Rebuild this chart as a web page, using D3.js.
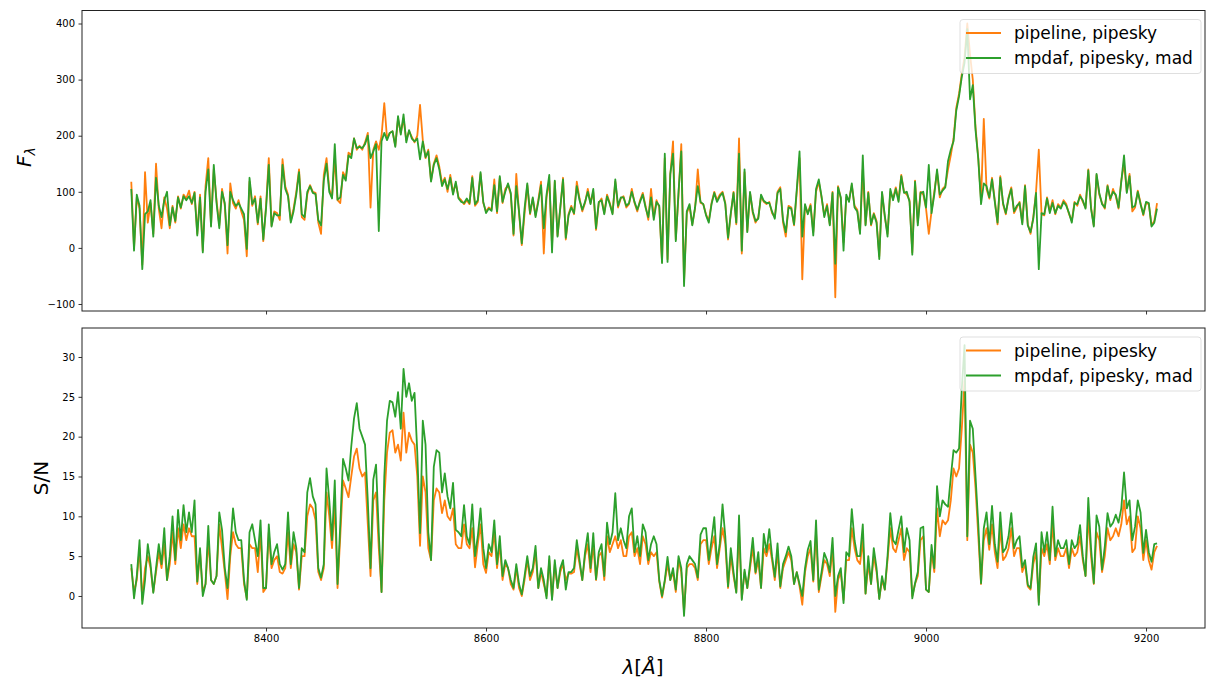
<!DOCTYPE html>
<html>
<head>
<meta charset="utf-8">
<script src="https://cdn.jsdelivr.net/npm/d3@7"></script>
<style>
  body { margin: 0; background: #fff; }
  svg { display: block; }
  text { font-family: "DejaVu Sans", sans-serif; }
</style>
</head>
<body>
<svg id="chart" width="1206" height="685"></svg>
<script>
// Wavelength grid of the extracted spectrum (Angstrom)
const lambdaStart = 8277.5;
const lambdaStep = 2.5;

// Flux density, pipeline reduction with pipeline sky subtraction
const fluxPipeline = [
  118, 0, 90, 70, -30, 135, 45, 80, 25, 150,
  70, 35, 90, 70, 35, 75, 45, 92, 70, 95,
  88, 102, 78, 100, 25, 95, -5, 110, 160, 40,
  140, 85, 40, 105, 75, -10, 115, 80, 70, 85,
  65, 50, -15, 118, 75, 92, 42, 92, 12, 75,
  160, 40, 65, 62, 50, 158, 110, 95, 48, 70,
  100, 140, 55, 50, 95, 112, 100, 98, 45, 25,
  130, 160, 105, 90, 160, 85, 80, 135, 125, 170,
  165, 195, 175, 182, 175, 188, 205, 72, 175, 190,
  175, 200, 258, 195, 205, 208, 182, 230, 205, 230,
  192, 208, 198, 188, 200, 255, 192, 160, 175, 120,
  150, 165, 145, 115, 125, 100, 130, 98, 115, 90,
  85, 78, 85, 78, 128, 75, 82, 132, 80, 65,
  72, 68, 122, 62, 125, 80, 105, 112, 95, 22,
  132, 62, 5, 60, 112, 60, 88, 58, 85, 118,
  -10, 90, 120, 5, 118, 22, 70, 125, 15, 60,
  75, 60, 118, 88, 65, 80, 105, 80, 100, 32,
  80, 88, 62, 95, 80, 62, 118, 72, 88, 92,
  72, 78, 105, 80, 65, 85, 98, 75, 50, 105,
  55, 85, 72, -25, 160, -20, 130, 190, 15, 95,
  185, -60, 62, 75, 42, 70, 140, 80, 78, 60,
  48, 80, 100, 85, 95, 100, 80, 15, 60, 100,
  42, 195, -10, 135, 30, 98, 62, 45, 55, 92,
  82, 78, 82, 62, 55, 100, 108, 45, 20, 75,
  72, 40, 100, 160, -56, 75, 62, 78, 28, 100,
  118, 90, 58, 78, 42, 100, -88, 110, 88, 10,
  90, 85, 112, 75, 68, 28, 140, 42, 100, 40,
  62, 48, -15, 98, 55, 25, 100, 88, 108, 85,
  130, 100, 95, 85, -8, 120, 45, 100, 95, 70,
  25, 65, 100, 135, 90, 105, 110, 140, 165, 195,
  250, 275, 310, 340, 400, 345, 300, 215, 160, 85,
  230, 105, 88, 125, 85, 42, 128, 78, 60, 90,
  108, 62, 72, 82, 45, 112, 42, 25, 55, 100,
  175, 60, 58, 90, 65, 85, 60, 78, 72, 85,
  78, 60, 48, 82, 75, 95, 82, 72, 140, 72,
  40, 130, 95, 80, 70, 112, 85, 105, 92, 70,
  120, 150, 100, 132, 65, 72, 102, 80, 58, 80,
  78, 40, 48, 80
];

// Flux density, MPDAF extraction with pipeline sky and MAD clipping
const fluxMpdaf = [
  105, -5, 95, 75, -38, 60, 65, 85, 20, 125,
  75, 55, 85, 100, 40, 72, 48, 90, 72, 92,
  85, 92, 80, 98, 22, 90, -8, 100, 140, 38,
  148, 80, 35, 100, 80, 5, 100, 85, 75, 80,
  70, 60, -2, 125, 78, 88, 45, 88, 15, 70,
  148, 38, 62, 58, 58, 148, 105, 92, 45, 65,
  95, 135, 60, 55, 100, 110, 98, 96, 50, 40,
  120, 150, 100, 88, 185, 86, 90, 130, 120, 165,
  160, 195, 178, 180, 178, 185, 200, 160, 172, 185,
  30, 190, 205, 192, 205, 208, 180, 235, 202, 238,
  188, 210, 195, 190, 195, 158, 190, 162, 172, 118,
  148, 160, 140, 110, 122, 105, 125, 95, 118, 88,
  82, 80, 88, 80, 125, 78, 85, 135, 82, 62,
  70, 66, 112, 65, 128, 82, 100, 115, 98, 25,
  110, 65, 8, 70, 115, 62, 90, 55, 82, 112,
  35, 95, 130, -8, 120, 20, 72, 122, 18, 58,
  72, 62, 110, 85, 68, 82, 100, 78, 105, 35,
  82, 85, 60, 92, 78, 60, 122, 75, 90, 90,
  75, 80, 100, 82, 68, 82, 95, 72, 55, 90,
  50, 82, 75, -27, 168, -25, 132, 168, 12, 100,
  172, -68, 65, 78, 40, 72, 110, 82, 78, 58,
  45, 78, 98, 82, 92, 98, 78, 18, 62, 98,
  45, 168, -5, 140, 28, 100, 65, 48, 52, 95,
  84, 80, 80, 65, 52, 98, 105, 50, 28, 72,
  70, 42, 105, 172, 20, 78, 60, 75, 22, 105,
  122, 92, 55, 75, 40, 98, -28, 108, 90, -5,
  95, 82, 115, 72, 65, 25, 165, 40, 98, 42,
  60, 45, -20, 100, 58, 20, 105, 85, 105, 82,
  128, 98, 100, 82, -12, 118, 40, 98, 100, 72,
  148, 62, 95, 140, 95, 102, 108, 155, 175, 190,
  245, 270, 305, 330, 390, 265, 290, 210, 158, 78,
  115, 110, 90, 122, 82, 45, 125, 80, 62, 88,
  105, 65, 75, 80, 42, 110, 40, 28, 52, 98,
  -38, 62, 60, 88, 62, 80, 62, 75, 70, 82,
  75, 62, 45, 80, 78, 92, 85, 70, 138, 70,
  38, 132, 98, 78, 72, 110, 88, 100, 95, 72,
  118, 165, 98, 128, 72, 75, 100, 78, 60, 82,
  80, 38, 45, 70
];

// Signal-to-noise ratio, pipeline reduction
const snrPipeline = [
  3.5, 0.5, 2, 6, -0.5, 3.5, 5, 3.5, 0.5, 3,
  5.5, 3.5, 6.5, 2, 4, 8, 4, 8.5, 6, 9,
  7, 8.5, 7.5, 7.5, 1.5, 5.5, 0.5, 1.5, 7, 2,
  1.5, 2.5, 9, 6, 3, -0.4, 5, 8, 6.5, 6,
  6, 1.5, -0.3, 6.5, 6, 6, 3, 8, 0.5, 1,
  8, 3.5, 4.5, 5, 3, 2.8, 3.5, 8, 3.5, 6.5,
  5.5, 0.8, 5, 5, 10, 11.5, 11, 9.5, 3, 2,
  3.5, 13, 10, 6, 11.5, 1, 7.5, 14.5, 13.5, 12.4,
  15, 17.5, 18.5, 16, 15, 15.5, 9, 2.5, 12, 13,
  6, 0.5, 12, 18, 20.5, 20.8, 18, 19, 17, 23,
  18, 20.5, 19.5, 19, 15, 6.3, 15, 13, 6, 4.5,
  12, 13.5, 13, 10.4, 12, 10, 9.5, 11, 6.5, 6,
  6, 9, 6.5, 6, 8.5, 3.6, 6.5, 9, 4, 2.9,
  5.5, 5, 8, 3.5, 6.5, 2, 4, 3.5, 1.5, 0.8,
  3.5, 1, 0, 2, 4.5, 2, 3, 5.5, 1, 3,
  1.5, 0, 4.5, -0.3, 4, 1, 3, 4, 2, 2.8,
  2.8, 3, 6, 4, 2, 5, 6.5, 3, 6.5, 2,
  5, 5.5, 2, 7.5, 5.5, 6.5, 7.5, 6, 7, 5,
  5, 7.5, 8, 5, 6, 4, 7.5, 6.5, 4, 5.5,
  5, 5.5, 1.8, -0.2, 1.8, 4, 2, 3, 0.5, 4.5,
  3, -2, 3.5, 4, 4, 3.5, 2, 6.5, 7, 7,
  4, 6, 7.5, 3.5, 6, 8.5, 6.5, 1, 5, 2.5,
  0.5, 8, -0.3, 3, 1, 3.5, 6, 2.8, 4.5, 1,
  6, 5, 6.5, 4.5, 2, 5.5, 1, 3.5, 4.5, 5.5,
  4.5, 1.5, 3, 1.2, -1.1, 3, 5, 6, 1.8, 8,
  0.5, 2.5, 4.5, 4, 2.5, 6, -2, 2, 3, -0.5,
  4.5, 4.5, 8.5, 6, 4.5, 4, 7, 0.3, 4, 1.5,
  5, 3, -0.3, 2, 0.8, 4.5, 8.5, 6, 5.5, 7,
  8.5, 4.5, 6, 5.5, 0, 1.5, 2.5, 7, 7.5, 0.8,
  0.5, 5.5, 3, 11, 7.5, 9.5, 9, 9.5, 12, 16,
  15, 16, 21, 27, 7, 19, 18, 13.5, 7.5, 1.5,
  7, 8.5, 5.8, 9, 5.5, 3.5, 8.5, 4.5, 5, 6,
  8.5, 5, 6, 6, 3, 4, 1.2, 0.8, 4, 5.5,
  -0.8, 6, 5, 6.5, 4, 9, 4.5, 6, 5, 5,
  6, 3.5, 6, 5, 5.5, 7.5, 4.5, 2.5, 10, 5,
  1.5, 8, 7, 3, 5, 8.5, 7, 7.5, 8.5, 7.5,
  9, 12, 9, 10, 5.5, 6, 10, 8.5, 4.5, 7,
  4.5, 3.3, 5.5, 6.3
];

// Signal-to-noise ratio, MPDAF extraction
const snrMpdaf = [
  4, -0.3, 2.5, 7, -1, 2, 6.5, 4, 0.4, 3.5,
  6.5, 4, 8.5, 2, 5, 10, 4.5, 10.8, 7, 11.4,
  8, 10.5, 8, 12, 1.8, 6, 0, 1.5, 8.8, 2,
  1.5, 2.5, 10.5, 8.3, 3.5, 1, 6, 11, 8, 7,
  7, 2, -0.5, 8, 9, 7, 5, 9.5, 1, 1,
  9, 4, 5.5, 6.5, 4, 3.3, 4, 10.5, 4, 8,
  6, 1, 6, 5.5, 13, 14.8, 12.5, 11.5, 3.5, 2.3,
  4, 16, 12, 7, 14.5, 1.5, 9, 17.2, 16, 14.5,
  18.8, 22.3, 24.2, 21, 20, 19, 12, 3.5, 14.6, 16.5,
  8, 0.5, 15, 22, 24.5, 24.3, 22.5, 25.6, 21, 28.5,
  25, 26.7, 24.5, 25.5, 18, 7.9, 22, 19, 8, 4.5,
  16.2, 18.3, 18, 13, 15.4, 12.5, 11, 14.2, 8.3, 8,
  7.5, 11.4, 7.5, 6.5, 11.5, 5, 7.5, 11, 6, 3.5,
  6.5, 5.5, 9.5, 4, 7.5, 2.5, 4.5, 3.5, 2, 1,
  4, 1.5, 0.2, 2.5, 5, 2.5, 3.5, 6.3, 1, 3.5,
  2, -0.3, 5, -0.5, 4.5, 1, 3.5, 4.5, 0.8, 3,
  3, 3.5, 7, 4.5, 2, 5.5, 7.9, 3.5, 7.9, 2.1,
  5.5, 6.5, 2.5, 9.2, 6.5, 8, 12.9, 7, 8.5, 7,
  6, 10, 11, 5.5, 7.5, 5, 9, 8, 4.5, 6.5,
  7.5, 6.5, 2, 0, 2, 4.9, 2, 3.5, 0.8, 5,
  3.5, -2.5, 4, 5, 4.5, 4, 2.3, 7.7, 8.5, 8.5,
  4.5, 7, 9.9, 4, 6.6, 11.5, 7.5, 1.2, 6, 3,
  0.4, 10.1, -0.5, 3.3, 1, 4, 7.3, 3, 5.5, 1,
  7.8, 5.5, 8.4, 5, 2.4, 6.6, 1.2, 4, 5, 6.2,
  5, 1.5, 3, 1.5, 0, 3.5, 5.8, 6.9, 2, 9.5,
  0.8, 3, 5.4, 4.5, 3, 7.3, 0, 2.5, 3.5, -0.9,
  5.5, 5, 10.9, 7, 5, 5, 9, 0.3, 5, 1.5,
  6, 3.5, -0.4, 2.5, 0.8, 5, 10.4, 7, 6.5, 8.3,
  10, 5.5, 8.5, 7, -0.3, 1.6, 3, 8.5, 8.7, 0.8,
  0.5, 6.4, 3.5, 13.8, 10, 12, 11.5, 11.2, 14.9, 18.3,
  18, 18.5, 26, 31.5, 7.5, 22, 21, 15, 9, 1.6,
  8.5, 10.5, 6.5, 11.3, 6.5, 4.3, 10.5, 5.5, 6, 7.5,
  10.4, 6, 7, 7.5, 3.6, 4.5, 1.4, 1, 4.9, 6.6,
  -1.1, 8, 5.5, 8, 4.5, 11.2, 5, 7, 6, 6,
  7, 4, 7, 6, 6.5, 8.9, 5, 2.5, 12.3, 6,
  1.6, 10.1, 8.7, 3.3, 6.2, 10.4, 8.7, 9.2, 10.2, 9.2,
  11, 15.5, 11, 12, 7, 8.7, 12, 10.5, 5.4, 8.3,
  5.5, 4.3, 6.5, 6.6
];

const seriesNames = ["pipeline, pipesky", "mpdaf, pipesky, mad"];
const seriesColors = ["#ff7f0e", "#2ca02c"];

const wavelengthTicks = [8400, 8600, 8800, 9000, 9200];
const fluxTicks = [-100, 0, 100, 200, 300, 400];
const snrTicks = [0, 5, 10, 15, 20, 25, 30];

const wavelengths = d3.range(fluxPipeline.length).map(i => lambdaStart + i * lambdaStep);

const svg = d3.select("#chart");
const left = 82, right = 1205;

const x = d3.scaleLinear().domain([8232.7, 9253.6]).range([left, right]);

const panels = [
  { id: "flux", top: 10.5, bottom: 311, domain: [-112.5, 423.2], ticks: fluxTicks,
    series: [fluxPipeline, fluxMpdaf], xLabels: false },
  { id: "snr", top: 328, bottom: 628, domain: [-4.02, 33.64], ticks: snrTicks,
    series: [snrPipeline, snrMpdaf], xLabels: true }
];

panels.forEach(p => {
  const y = d3.scaleLinear().domain(p.domain).range([p.bottom, p.top]);
  const g = svg.append("g");

  g.append("clipPath").attr("id", "clip-" + p.id)
    .append("rect")
    .attr("x", left).attr("y", p.top)
    .attr("width", right - left).attr("height", p.bottom - p.top);

  const line = d3.line()
    .x((d, i) => x(wavelengths[i]))
    .y(d => y(d));

  const plot = g.append("g").attr("clip-path", "url(#clip-" + p.id + ")");
  p.series.forEach((values, k) => {
    plot.append("path")
      .datum(values)
      .attr("d", line)
      .attr("fill", "none")
      .attr("stroke", seriesColors[k])
      .attr("stroke-width", 1.8)
      .attr("stroke-linejoin", "round");
  });

  // y axis
  const yAxis = d3.axisLeft(y).tickValues(p.ticks).tickSize(3.5).tickPadding(3.5);
  const ya = g.append("g").attr("transform", `translate(${left},0)`).call(yAxis);
  ya.select(".domain").remove();
  ya.selectAll(".tick line").attr("stroke", "#000").attr("stroke-width", 0.8);
  ya.selectAll(".tick text").attr("font-family", "DejaVu Sans, sans-serif")
    .attr("font-size", 10).attr("fill", "#000");

  // x axis
  const xAxis = d3.axisBottom(x).tickValues(wavelengthTicks).tickSize(3.5).tickPadding(3.5);
  if (!p.xLabels) xAxis.tickFormat("");
  else xAxis.tickFormat(d3.format("d"));
  const xa = g.append("g").attr("transform", `translate(0,${p.bottom})`).call(xAxis);
  xa.select(".domain").remove();
  xa.selectAll(".tick line").attr("stroke", "#000").attr("stroke-width", 0.8);
  xa.selectAll(".tick text").attr("font-family", "DejaVu Sans, sans-serif")
    .attr("font-size", 10).attr("fill", "#000");

  // frame
  g.append("rect")
    .attr("x", left).attr("y", p.top)
    .attr("width", right - left).attr("height", p.bottom - p.top)
    .attr("fill", "none").attr("stroke", "#222").attr("stroke-width", 1);

  // legend
  const lg = g.append("g").attr("transform", `translate(960,${p.top + 9})`);
  lg.append("rect")
    .attr("x", 0).attr("y", 0).attr("width", 241).attr("height", 54)
    .attr("rx", 3).attr("ry", 3)
    .attr("fill", "#fff").attr("fill-opacity", 0.8)
    .attr("stroke", "#ccc").attr("stroke-opacity", 0.8).attr("stroke-width", 0.8);
  seriesNames.forEach((name, k) => {
    const ly = 13.5 + k * 25;
    lg.append("line")
      .attr("x1", 6).attr("x2", 41).attr("y1", ly).attr("y2", ly)
      .attr("stroke", seriesColors[k]).attr("stroke-width", 1.8);
    lg.append("text")
      .attr("x", 54).attr("y", ly)
      .attr("dy", "0.36em")
      .attr("font-size", 17).attr("fill", "#000")
      .text(name);
  });
});

// axis labels
const fl = svg.append("text")
  .attr("transform", "translate(31,157) rotate(-90)")
  .attr("text-anchor", "middle")
  .attr("font-size", 20);
fl.append("tspan").attr("font-style", "italic").text("F");
fl.append("tspan").attr("font-style", "italic").attr("font-size", 14)
  .attr("dy", 4).text("λ");

svg.append("text")
  .attr("transform", "translate(48,478) rotate(-90)")
  .attr("text-anchor", "middle")
  .attr("font-size", 20)
  .text("S/N");

const xl = svg.append("text")
  .attr("x", 643).attr("y", 674)
  .attr("text-anchor", "middle")
  .attr("font-size", 20);
xl.append("tspan").attr("font-style", "italic").text("λ");
xl.append("tspan").text("[");
xl.append("tspan").attr("font-style", "italic").text("Å");
xl.append("tspan").text("]");
</script>
</body>
</html>
